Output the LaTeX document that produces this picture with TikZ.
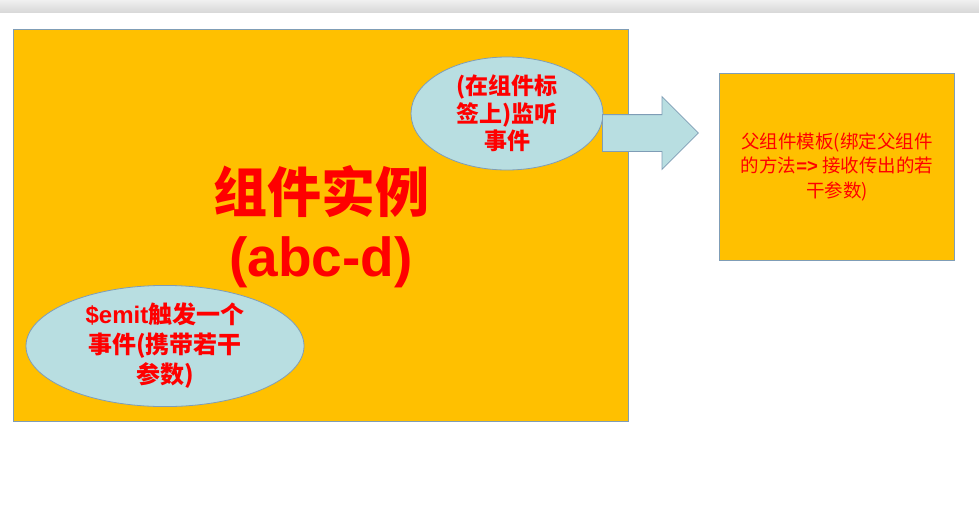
\documentclass[tikz,border=0pt]{standalone}
\usepackage{fontspec}
\setmainfont{Liberation Sans}
\newfontfamily\cjk{Noto Sans CJK SC}
\usetikzlibrary{shapes.geometric,shapes.arrows}

\definecolor{slideorange}{HTML}{FFC000}
\definecolor{bubblecyan}{HTML}{B8DEE1}
\definecolor{edgeblue}{HTML}{7F9DB6}

\tikzset{
  panel/.style={rectangle, draw=edgeblue, fill=slideorange, line width=0.8pt, anchor=north west, inner sep=0pt},
  bubble/.style={ellipse, draw=edgeblue, fill=bubblecyan, line width=0.8pt, inner sep=0pt, text=red, align=center},
  redtext/.style={text=red, inner sep=0pt, align=center},
}

\begin{document}
\begin{tikzpicture}[x=1pt, y=-1pt]
\useasboundingbox (0,0) rectangle (979,509);

% browser bar
\shade[top color=gray!12, bottom color=gray!30] (0,0) rectangle (979,12);

% component instance
\node[panel, minimum width=615pt, minimum height=392pt] (inst) at (13,29) {};
\node[redtext, font=\cjk\bfseries\fontsize{54}{60}\selectfont] (title) at (321,192) {组件实例};
\node[redtext, font=\bfseries\fontsize{55}{60}\selectfont] (tag) at (321,262) {(abc-d)};

% $emit
\node[bubble, minimum width=278pt, minimum height=118pt, font=\cjk\bfseries\fontsize{24}{30}\selectfont] (emit) at (165,346)
  {{\rmfamily\bfseries\$emit}触发一个\\事件(携带若干\\参数)};

% listener on tag
\node[bubble, minimum width=192pt, minimum height=113pt, font=\cjk\bfseries\fontsize{23}{27.5}\selectfont] (listen) at (507,113.5)
  {(在组件标\\签上)监听\\事件};

% arrow to parent
\node[single arrow, draw=edgeblue, fill=bubblecyan, line width=0.8pt, minimum height=96pt,
  single arrow head extend=18pt, inner xsep=0pt, inner ysep=18pt, anchor=tail] (toparent) at (602,133) {};

% parent template
\node[panel, minimum width=235pt, minimum height=187pt] (parent) at (719,73) {};
\node[redtext, font=\cjk\fontsize{18.5}{24.5}\selectfont] (parenttext) at (parent.center)
  {父组件模板(绑定父组件\\的方法{\rmfamily\bfseries =>} 接收传出的若\\干参数)};

\end{tikzpicture}
\end{document}
